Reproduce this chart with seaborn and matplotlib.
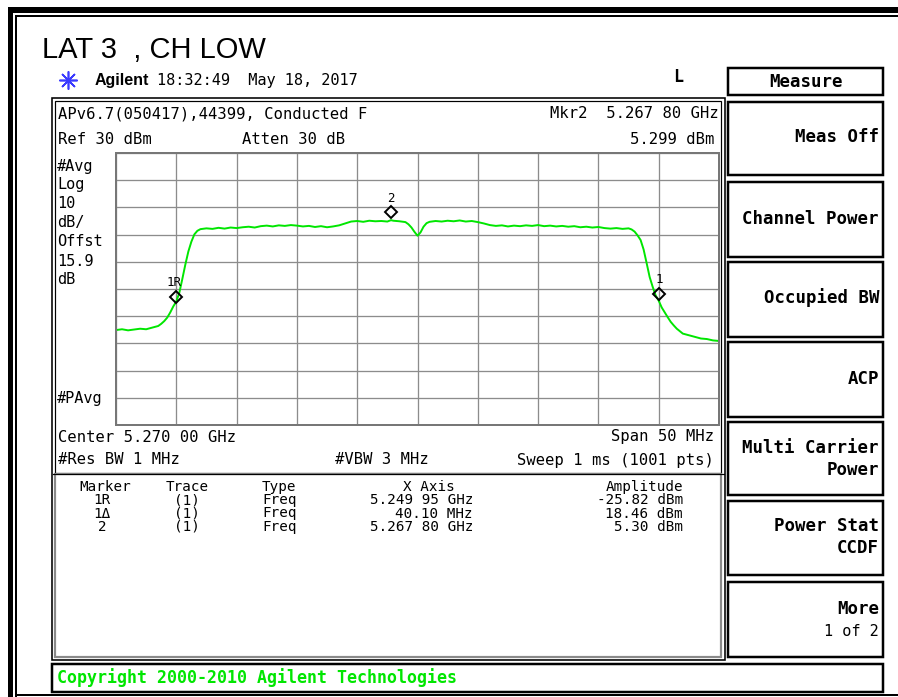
import numpy as np
import pandas as pd
import matplotlib
matplotlib.use("Agg")
import matplotlib.pyplot as plt
import matplotlib.patches as mpatches
import matplotlib.transforms as mtransforms
import seaborn as sns

# ---- sweep settings ----
center_ghz = 5.270
span_mhz = 50.0
ref_level_dbm = 30.0
db_per_div = 10.0

# ---- trace: offset from start frequency (MHz) and level (dBm) ----
freq_offset_mhz = [
    0.0, 0.5, 1.0, 1.5, 2.0, 2.5, 3.0, 3.5, 3.75, 4.0, 4.25, 4.5, 4.75, 5.0,
    5.25, 5.5, 5.75, 6.0, 6.25, 6.5, 6.75, 7.0, 7.5, 8.0, 8.5, 9.0, 9.5, 10.0,
    10.5, 11.0, 11.5, 12.0, 12.5, 13.0, 13.5, 14.0, 14.5, 15.0, 15.5, 16.0,
    16.5, 17.0, 17.5, 18.0, 18.5, 19.0, 19.5, 20.0, 20.5, 21.0, 21.5, 22.0,
    22.5, 22.8, 23.0, 23.5, 24.0, 24.25, 24.5, 24.75, 25.0, 25.25, 25.5, 25.75,
    26.0, 26.5, 27.0, 27.5, 28.0, 28.5, 29.0, 29.5, 30.0, 30.5, 31.0, 31.5,
    32.0, 32.5, 33.0, 33.5, 34.0, 34.5, 35.0, 35.5, 36.0, 36.5, 37.0, 37.5,
    38.0, 38.5, 39.0, 39.5, 40.0, 40.5, 41.0, 41.5, 42.0, 42.5, 42.75, 43.0,
    43.25, 43.5, 43.75, 44.0, 44.25, 44.5, 44.75, 45.0, 45.25, 45.5, 45.75,
    46.0, 46.25, 46.5, 47.0, 47.5, 48.0, 48.5, 49.0, 49.5, 50.0,
]
level_dbm = [
    -35.1, -34.8, -35.2, -34.9, -34.6, -34.8, -34.2, -33.6, -32.8, -31.8, -30.5,
    -28.6, -26.4, -24.6, -21.4, -16.3, -11.0, -6.2, -2.6, 0.1, 1.4, 2.0, 2.3,
    2.1, 2.5, 2.2, 2.6, 2.4, 2.7, 2.9, 2.6, 3.1, 3.3, 3.0, 3.4, 3.2, 3.5, 3.3,
    3.0, 3.2, 2.8, 3.1, 2.7, 3.0, 3.4, 4.1, 4.8, 5.0, 4.7, 5.1, 4.9, 5.0, 4.8,
    5.3, 5.1, 4.9, 4.6, 3.8, 2.6, 1.0, -0.4, 0.8, 2.9, 4.2, 4.7, 5.0, 4.8, 5.1,
    4.9, 5.2, 4.8, 5.0, 4.6, 4.1, 3.5, 3.2, 3.4, 3.0, 3.3, 3.1, 3.4, 3.2, 3.5,
    3.1, 3.3, 3.0, 3.2, 2.9, 3.1, 2.7, 2.9, 2.6, 2.8, 2.4, 2.2, 2.4, 2.1, 2.3,
    1.9, 1.1, -0.3, -2.0, -5.5, -10.5, -15.6, -19.2, -22.4, -24.3, -26.8, -28.6,
    -30.4, -32.1, -33.4, -34.6, -36.4, -37.0, -37.6, -38.2, -38.4, -38.9, -39.1,
]

# ---- markers ----
marker_names = ["1R", "1", "2"]
marker_freq_ghz = [5.24995, 5.29005, 5.26780]
marker_level_dbm = [-25.82, -24.6, 5.30]

# ---- marker table ----
table_marker = ["1R", "1\u0394", "2"]
table_trace = ["(1)", "(1)", "(1)"]
table_type = ["Freq", "Freq", "Freq"]
table_xaxis = ["5.249 95 GHz", "40.10 MHz", "5.267 80 GHz"]
table_amp = ["-25.82 dBm", "18.46 dBm", "5.30 dBm"]

softkeys = ["Meas Off", "Channel Power", "Occupied BW", "ACP",
            "Multi Carrier\nPower", "Power Stat\nCCDF", "More"]

start_ghz = center_ghz - span_mhz / 2000.0
stop_ghz = center_ghz + span_mhz / 2000.0
trace = pd.DataFrame({
    "freq_ghz": start_ghz + np.array(freq_offset_mhz) / 1000.0,
    "level_dbm": level_dbm,
})

W, H = 898, 697
fig = plt.figure(figsize=(W / 100, H / 100), dpi=100)
fig.patch.set_facecolor("white")

# overlay axes in pixel units for frames and annotations
bg = fig.add_axes([0, 0, 1, 1])
bg.set_xlim(0, W)
bg.set_ylim(H, 0)
bg.axis("off")

MONO = "DejaVu Sans Mono"
GREEN = "#00e600"
PX = 72 / 100  # points per pixel


def rect(x0, y0, x1, y1, lw_px, color="black", **kw):
    bg.add_patch(mpatches.Rectangle((x0, y0), x1 - x0, y1 - y0, fill=False,
                                    lw=lw_px * PX, edgecolor=color, **kw))


def txt(x, y, s, size=11.2, ha="left", weight="normal", family=MONO, color="black", **kw):
    bg.text(x, y, s, fontsize=size, ha=ha, va="center", fontweight=weight,
            family=family, color=color, **kw)


# outer page frame
bg.add_patch(mpatches.Rectangle((8, 7), W - 8, 6, color="black", lw=0))
bg.add_patch(mpatches.Rectangle((8, 7), 5, H - 7, color="black", lw=0))
bg.plot([16, W], [16, 16], color="black", lw=2 * PX)
bg.plot([16, 16], [16, H], color="black", lw=2 * PX)
bg.plot([16, W], [695, 695], color="black", lw=2 * PX)

# title and instrument header
txt(42, 50, "LAT 3  , CH LOW", size=21, family="Liberation Sans")
bg.plot([68], [80], marker=(8, 2, 0), markersize=13, color="#3a3aff", mew=1.2)
bg.plot([68], [80], marker="o", markersize=3, color="#3a3aff", mew=0)
txt(95, 81, "Agilent", size=11.5, weight="bold", family="Liberation Sans")
txt(157, 81, "18:32:49  May 18, 2017", size=11)
txt(673, 77, "L", size=12, weight="bold")

# screen frame
rect(52, 98, 725, 660, 1.6)
rect(55, 101, 721, 473, 1.2)
rect(55, 474, 721, 657, 2.2, color="#8a8a8a")
bg.plot([53, 724], [473.5, 473.5], color="black", lw=1.2 * PX)

txt(58, 114, "APv6.7(050417),44399, Conducted F")
txt(58, 139, "Ref 30 dBm")
txt(242, 139, "Atten 30 dB")
txt(719, 113, "Mkr2  5.267 80 GHz", ha="right")
txt(714, 139, "5.299 dBm", ha="right")

for y, s in zip([166, 185, 204, 223, 242, 261, 280],
                ["#Avg", "Log", "10", "dB/", "Offst", "15.9", "dB"]):
    txt(57, y, s, size=11)
txt(57, 398, "#PAvg", size=11)

txt(58, 437, "Center 5.270 00 GHz")
txt(714, 437, "Span 50 MHz", ha="right")
txt(58, 460, "#Res BW 1 MHz")
txt(335, 460, "#VBW 3 MHz")
txt(714, 460, "Sweep 1 ms (1001 pts)", ha="right")

# marker table
TS = 10.3
txt(105, 487, "Marker", size=TS, ha="center")
txt(187, 487, "Trace", size=TS, ha="center")
txt(262, 487, "Type", size=TS)
txt(455, 487, "X Axis", size=TS, ha="right")
txt(683, 487, "Amplitude", size=TS, ha="right")
for i, y in enumerate([500, 513.5, 527]):
    txt(102, y, table_marker[i], size=TS, ha="center")
    txt(187, y, table_trace[i], size=TS, ha="center")
    txt(262, y, table_type[i], size=TS)
    txt(473, y, table_xaxis[i], size=TS, ha="right")
    txt(683, y, table_amp[i], size=TS, ha="right")

# softkey panel
rect(728, 68, 883, 95, 2.5)
txt(805.5, 82, "Measure", size=12.5, ha="center", weight="bold")
key_boxes = [(102, 175), (182, 257), (262, 337), (342, 417),
             (422, 495), (501, 575), (582, 657)]
key_text_y = [137, 219, 298, 379, 459, 537, 609]
for (y0, y1), ty, label in zip(key_boxes, key_text_y, softkeys):
    rect(728, y0, 883, y1, 2.5)
    bg.text(879, ty, label, fontsize=12.5, ha="right", va="center",
            fontweight="bold", family=MONO, linespacing=1.3)
txt(879, 632, "1 of 2", size=11, ha="right")

# status bar
rect(52, 664, 883, 692, 2.5)
txt(57, 678, "Copyright 2000-2010 Agilent Technologies", size=12,
    weight="bold", color=GREEN)

# ---- spectrum graticule ----
gx0, gx1, gy0, gy1 = 116, 719, 153, 425
ax = fig.add_axes([gx0 / W, 1 - gy1 / H, (gx1 - gx0) / W, (gy1 - gy0) / H])
ax.set_facecolor("white")
sns.lineplot(data=trace, x="freq_ghz", y="level_dbm", ax=ax, color=GREEN,
             linewidth=1.4, estimator=None, sort=False)
ax.set_xlim(start_ghz, stop_ghz)
ax.set_ylim(ref_level_dbm - 10 * db_per_div, ref_level_dbm)
ax.set_xticks(np.linspace(start_ghz, stop_ghz, 11))
ax.set_yticks(np.linspace(ref_level_dbm - 10 * db_per_div, ref_level_dbm, 11))
ax.grid(True, color="#8c8c8c", lw=1.3 * PX)
ax.tick_params(length=0, labelbottom=False, labelleft=False)
ax.set_xlabel("")
ax.set_ylabel("")
for s in ax.spines.values():
    s.set_color("#777777")
    s.set_linewidth(2 * PX)

# marker diamonds sit just above their trace point
lift = mtransforms.offset_copy(ax.transData, fig=fig, x=0, y=8, units="dots")
for name, f, lv in zip(marker_names, marker_freq_ghz, marker_level_dbm):
    ax.plot([f], [lv], marker="D", markersize=6.5, mfc="none", mec="black",
            mew=1.4, transform=lift, clip_on=False)
    ax.annotate(name, (f, lv), xytext=(-2 if name == "1R" else 0, 22),
                textcoords="offset pixels", ha="center", va="center",
                fontsize=9, family=MONO)

fig.savefig("out.png", dpi=100)
